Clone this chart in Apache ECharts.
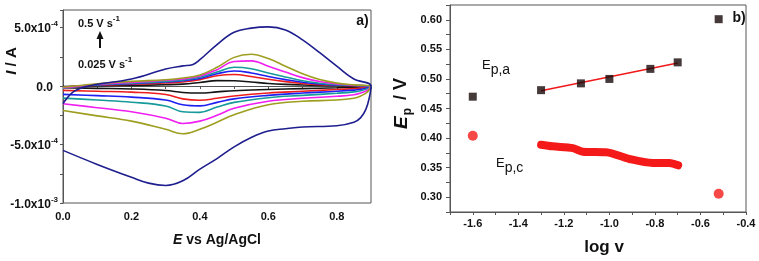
<!DOCTYPE html>
<html><head><meta charset="utf-8">
<script src="https://cdn.jsdelivr.net/npm/echarts@6/dist/echarts.min.js"></script>
<style>html,body{margin:0;padding:0;background:#fff}#c{width:759px;height:261px}</style>
</head><body><div id="c"></div>
<script>
// ---------- Panel a: cyclic voltammograms (current in units of 1e-4 A) ----------
const E_FWD = [0, 0.05, 0.1, 0.2, 0.3, 0.35, 0.4, 0.45, 0.5, 0.55, 0.6, 0.65, 0.7, 0.75, 0.8, 0.85, 0.9];
const E_REV = [0.9, 0.89, 0.87, 0.85, 0.8, 0.7, 0.6, 0.5, 0.45, 0.4, 0.35, 0.3, 0.2, 0.1, 0];

const I_BLACK_FWD   = [-0.05, 0.0, 0.03, 0.06, 0.11, 0.16, 0.30, 0.46, 0.45, 0.34, 0.22, 0.14, 0.09, 0.06, 0.04, 0.02, 0];
const I_BLACK_REV   = [0, -0.05, -0.08, -0.10, -0.15, -0.22, -0.30, -0.40, -0.50, -0.60, -0.55, -0.38, -0.25, -0.20, -0.14];
const I_RED_FWD     = [-0.10, 0.0, 0.08, 0.15, 0.26, 0.35, 0.55, 0.88, 0.98, 0.82, 0.58, 0.38, 0.22, 0.12, 0.07, 0.03, 0];
const I_RED_REV     = [0, -0.10, -0.18, -0.22, -0.30, -0.45, -0.60, -0.85, -1.05, -1.22, -1.10, -0.72, -0.52, -0.45, -0.37];
const I_BLUE_FWD    = [-0.15, 0.0, 0.10, 0.20, 0.34, 0.45, 0.65, 1.05, 1.28, 1.12, 0.82, 0.55, 0.32, 0.17, 0.09, 0.04, 0];
const I_BLUE_REV    = [0, -0.15, -0.28, -0.35, -0.45, -0.60, -0.80, -1.10, -1.40, -1.70, -1.60, -1.20, -0.95, -0.82, -0.71];
const I_TEAL_FWD    = [-0.20, 0.0, 0.12, 0.25, 0.40, 0.52, 0.75, 1.20, 1.60, 1.48, 1.12, 0.78, 0.45, 0.24, 0.12, 0.05, 0];
const I_TEAL_REV    = [0, -0.22, -0.40, -0.50, -0.62, -0.80, -1.00, -1.40, -1.80, -2.25, -2.20, -1.70, -1.38, -1.20, -1.03];
const I_MAGENTA_FWD = [-0.15, 0.0, 0.15, 0.30, 0.49, 0.60, 0.85, 1.40, 2.10, 2.15, 1.70, 1.20, 0.72, 0.38, 0.18, 0.07, 0];
const I_MAGENTA_REV = [0, -0.35, -0.60, -0.75, -0.88, -1.05, -1.30, -1.90, -2.50, -3.00, -3.20, -2.75, -2.20, -1.85, -1.51];
const I_OLIVE_FWD   = [-0.10, 0.05, 0.20, 0.40, 0.54, 0.68, 0.95, 1.60, 2.45, 2.72, 2.35, 1.70, 1.05, 0.55, 0.25, 0.10, 0];
const I_OLIVE_REV   = [0, -0.50, -0.85, -1.05, -1.20, -1.30, -1.60, -2.45, -3.10, -3.70, -4.08, -3.70, -3.00, -2.55, -2.09];

const E_NAVY_FWD = [0, 0.01, 0.03, 0.06, 0.1, 0.2, 0.3, 0.35, 0.38, 0.4, 0.45, 0.5, 0.55, 0.6, 0.65, 0.7, 0.75, 0.8, 0.85, 0.9];
const I_NAVY_FWD = [-1.5, -1.1, -0.5, -0.1, 0.15, 0.60, 1.45, 1.72, 1.85, 2.25, 3.55, 4.6, 4.95, 5.06, 4.8, 3.95, 2.85, 1.7, 0.6, 0];
const E_NAVY_REV = [0.9, 0.895, 0.885, 0.87, 0.85, 0.8, 0.7, 0.65, 0.6, 0.55, 0.5, 0.45, 0.4, 0.35, 0.3, 0.25, 0.2, 0.1, 0];
const I_NAVY_REV = [0, -1.0, -2.0, -2.7, -3.1, -3.4, -3.5, -3.65, -3.85, -4.4, -5.2, -6.2, -7.1, -8.1, -8.5, -8.3, -7.8, -6.7, -5.5];

const Y_TICK_LABELS_A = {'-10': ['-1.0x10', '-3'], '-5': ['-5.0x10', '-4'], '0': ['0.0', ''], '5': ['5.0x10', '-4']};

// ---------- Panel b: peak potential vs log v ----------
const LOGV_A = [-1.6, -1.3, -1.125, -1.0, -0.82, -0.7, -0.52];
const EP_A   = [0.470, 0.481, 0.4925, 0.500, 0.517, 0.528, 0.601];
const LOGV_C = [-1.6, -0.52];
const EP_C   = [0.404, 0.306];
const BAND_LOGV = [-1.30, -1.25, -1.16, -1.117, -1.014, -0.912, -0.81, -0.737, -0.698];
const BAND_EP   = [0.3887, 0.386, 0.383, 0.377, 0.376, 0.3646, 0.358, 0.358, 0.354];
const FIT_LOGV = [-1.3, -0.7];
const FIT_EP   = [0.480, 0.527];

// ---------- styles ----------
const FONT = '"Liberation Sans", Arial, sans-serif';
const AXIS_COLOR = '#555';
const curves = [
  {e1: E_FWD, i1: I_BLACK_FWD, e2: E_REV, i2: I_BLACK_REV, color: '#141414'},
  {e1: E_FWD, i1: I_RED_FWD, e2: E_REV, i2: I_RED_REV, color: '#ee1c1c'},
  {e1: E_FWD, i1: I_BLUE_FWD, e2: E_REV, i2: I_BLUE_REV, color: '#1f1ff2'},
  {e1: E_FWD, i1: I_TEAL_FWD, e2: E_REV, i2: I_TEAL_REV, color: '#169a9a'},
  {e1: E_FWD, i1: I_MAGENTA_FWD, e2: E_REV, i2: I_MAGENTA_REV, color: '#f01ef0'},
  {e1: E_FWD, i1: I_OLIVE_FWD, e2: E_REV, i2: I_OLIVE_REV, color: '#9e9e20'},
  {e1: E_NAVY_FWD, i1: I_NAVY_FWD, e2: E_NAVY_REV, i2: I_NAVY_REV, color: '#1e1e8e'}
];
function loop(c) {
  const pts = c.e1.map((e, k) => [e, c.i1[k]]);
  c.e2.forEach((e, k) => pts.push([e, c.i2[k]]));
  return pts;
}
const zip = (a, b) => a.map((v, k) => [v, b[k]]);

const labelBase = {color: '#111', fontFamily: FONT, fontWeight: 'bold', fontSize: 11};
const supRich = {
  b: {fontFamily: FONT, fontWeight: 'bold', fontSize: 12, color: '#111', lineHeight: 15, verticalAlign: 'bottom'},
  s: {fontFamily: FONT, fontWeight: 'bold', fontSize: 8, color: '#111', lineHeight: 8, verticalAlign: 'top'},
  p: {fontFamily: FONT, fontWeight: 'bold', fontSize: 12, color: '#111', lineHeight: 15, verticalAlign: 'bottom', padding: [0, 5, 0, 0]}
};
const annRich = {
  b: {fontFamily: FONT, fontWeight: 'bold', fontSize: 11, fill: '#111', lineHeight: 14, verticalAlign: 'bottom'},
  s: {fontFamily: FONT, fontWeight: 'bold', fontSize: 8, fill: '#111', lineHeight: 8, verticalAlign: 'top'}
};
const epRich = {
  e: {fontFamily: FONT, fontSize: 13, fill: '#111', lineHeight: 18, verticalAlign: 'top'},
  p: {fontFamily: FONT, fontSize: 14, fill: '#111', lineHeight: 15, verticalAlign: 'bottom'}
};

const option = {
  animation: false,
  backgroundColor: '#fff',
  grid: [
    {left: 63, top: 10, width: 308, height: 193, show: true, borderColor: AXIS_COLOR, borderWidth: 1, backgroundColor: 'transparent', containLabel: false, outerBoundsMode: 'none'},
    {left: 450, top: 5, width: 296, height: 207, show: true, borderColor: AXIS_COLOR, borderWidth: 1, backgroundColor: 'transparent', containLabel: false, outerBoundsMode: 'none'}
  ],
  xAxis: [
    {gridIndex: 0, type: 'value', min: 0, max: 0.9, interval: 0.1,
     name: '{i|E} vs Ag/AgCl', nameLocation: 'middle', nameGap: 30,
     nameTextStyle: {fontFamily: FONT, fontWeight: 'bold', fontSize: 14, color: '#111',
       rich: {i: {fontFamily: FONT, fontWeight: 'bold', fontStyle: 'italic', fontSize: 14, color: '#111'}}},
     axisLine: {lineStyle: {color: AXIS_COLOR}}, axisTick: {length: 3, lineStyle: {color: AXIS_COLOR}},
     splitLine: {show: false},
     axisLabel: Object.assign({margin: 8, formatter: v => (Math.round(v * 10) % 2 === 0 && v < 0.85) ? v.toFixed(1) : ''}, labelBase)},
    {gridIndex: 1, type: 'value', min: -1.7, max: -0.4, interval: 0.1,
     name: 'log v', nameLocation: 'middle', nameGap: 27,
     nameTextStyle: {fontFamily: FONT, fontWeight: 'bold', fontSize: 17, color: '#111', padding: [0, 0, 0, 12]},
     axisLine: {lineStyle: {color: AXIS_COLOR}}, axisTick: {length: 3, lineStyle: {color: AXIS_COLOR}},
     splitLine: {show: false},
     axisLabel: Object.assign({margin: 6, formatter: v => (Math.round(v * 10) % 2 === 0 && v > -1.65) ? v.toFixed(1) : ''}, labelBase)}
  ],
  yAxis: [
    {gridIndex: 0, type: 'value', min: -10, max: 6.5, interval: 2.5,
     axisLine: {show: true, lineStyle: {color: AXIS_COLOR}}, axisTick: {show: true, length: 3, lineStyle: {color: AXIS_COLOR}},
     splitLine: {show: false},
     axisLabel: {margin: 5, rich: supRich, formatter: v => {
        const t = Y_TICK_LABELS_A[String(Math.round(v * 100) / 100)];
        if (!t) return '';
        return t[1] ? '{b|' + t[0] + '}{s|' + t[1] + '}' : '{p|' + t[0] + '}';
     }}},
    {gridIndex: 1, type: 'value', min: 0.275, max: 0.625, interval: 0.025,
     name: '{i|E}{s|p}{b| / V}', nameLocation: 'middle', nameGap: 36,
     nameTextStyle: {fontFamily: FONT, fontWeight: 'bold', fontSize: 18, color: '#111', padding: [0, 0, 0, 10],
       rich: {i: {fontFamily: FONT, fontWeight: 'bold', fontStyle: 'italic', fontSize: 19, color: '#111', lineHeight: 22, verticalAlign: 'top'},
              s: {fontFamily: FONT, fontWeight: 'bold', fontSize: 12, color: '#111', lineHeight: 13, verticalAlign: 'bottom', padding: [0, 3, 0, 1]},
              b: {fontFamily: FONT, fontWeight: 'bold', fontSize: 18, color: '#111', lineHeight: 22, verticalAlign: 'top'}}},
     axisLine: {show: true, lineStyle: {color: AXIS_COLOR}}, axisTick: {show: true, length: 4, lineStyle: {color: AXIS_COLOR}},
     splitLine: {show: false},
     axisLabel: Object.assign({margin: 8, formatter: v => {
        const m = Math.round(v * 1000);
        return (m % 50 === 0 && m >= 300 && m <= 600) ? v.toFixed(2) : '';
     }}, labelBase)}
  ],
  series: [
    ...curves.map(c => ({type: 'line', xAxisIndex: 0, yAxisIndex: 0, symbol: 'none', smooth: 0.4,
      lineStyle: {color: c.color, width: 1.6}, data: loop(c)})),
    {type: 'line', xAxisIndex: 1, yAxisIndex: 1, symbol: 'none', lineStyle: {color: '#f01818', width: 1.5}, data: zip(FIT_LOGV, FIT_EP), z: 2},
    {type: 'scatter', xAxisIndex: 1, yAxisIndex: 1, symbol: 'rect', symbolSize: 8, itemStyle: {color: '#160808'}, data: zip(LOGV_A, EP_A), z: 3},
    {type: 'line', xAxisIndex: 1, yAxisIndex: 1, symbol: 'none', smooth: 0.3,
      lineStyle: {color: '#f51a1a', width: 8, cap: 'round', join: 'round'}, data: zip(BAND_LOGV, BAND_EP), z: 2},
    {type: 'scatter', xAxisIndex: 1, yAxisIndex: 1, symbol: 'circle', symbolSize: 10, itemStyle: {color: '#f51a1a'}, data: zip(LOGV_C, EP_C), z: 3}
  ],
  graphic: [
    {type: 'text', x: 12, y: 61, rotation: Math.PI / 2, style: {text: '{i|I} / A', align: 'center', verticalAlign: 'middle',
      font: 'bold 15px ' + FONT, fill: '#111', rich: {i: {fontFamily: FONT, fontWeight: 'bold', fontStyle: 'italic', fontSize: 15, fill: '#111'}}}},
    {type: 'text', x: 78, y: 22, style: {text: '{b|0.5 V s}{s|-1}', verticalAlign: 'middle', rich: annRich}},
    {type: 'text', x: 78, y: 63, style: {text: '{b|0.025 V s}{s|-1}', verticalAlign: 'middle', rich: annRich}},
    {type: 'line', shape: {x1: 100, y1: 48, x2: 100, y2: 37}, style: {stroke: '#111', lineWidth: 2}},
    {type: 'polygon', shape: {points: [[100, 31], [96.5, 39], [103.5, 39]]}, style: {fill: '#111'}},
    {type: 'text', x: 362.5, y: 21, style: {text: 'a)', align: 'center', verticalAlign: 'middle', font: 'bold 14px ' + FONT, fill: '#111'}},
    {type: 'text', x: 739, y: 18, style: {text: 'b)', align: 'center', verticalAlign: 'middle', font: 'bold 14px ' + FONT, fill: '#111'}},
    {type: 'text', x: 482, y: 68, style: {text: '{e|E}{p|p,a}', verticalAlign: 'middle', rich: epRich}},
    {type: 'text', x: 496, y: 166, style: {text: '{e|E}{p|p,c}', verticalAlign: 'middle', rich: epRich}}
  ]
};
const chart = echarts.init(document.getElementById('c'));
chart.setOption(option);
</script></body></html>
